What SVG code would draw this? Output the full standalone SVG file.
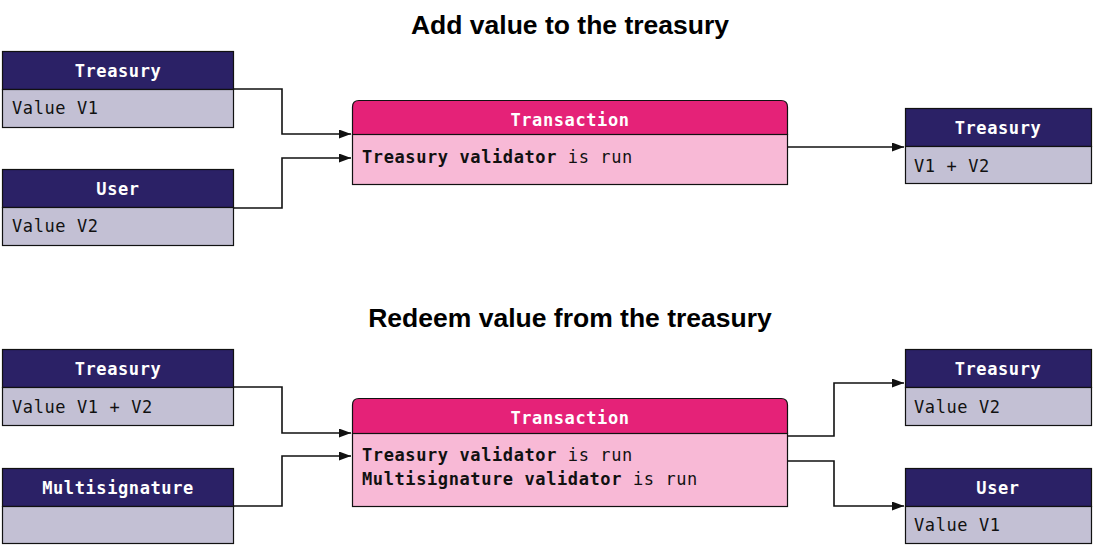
<svg xmlns="http://www.w3.org/2000/svg" width="1096" height="550" viewBox="0 0 1096 550">
<style>
.title{font-family:"Liberation Sans",Arial,sans-serif;font-weight:bold;font-size:26.5px;fill:#000;text-anchor:middle}
.hd{fill:#2b2166;stroke:#111;stroke-width:1.2}
.bd{fill:#c3c0d4;stroke:#111;stroke-width:1.2}
.thd{fill:#e52278;stroke:#111;stroke-width:1.2}
.tbd{fill:#f8b9d6;stroke:#111;stroke-width:1.2}
.ht{font-family:"DejaVu Sans Mono",monospace;font-weight:bold;font-size:17px;letter-spacing:0.6px;fill:#fff;text-anchor:middle}
.bt{font-family:"DejaVu Sans Mono",monospace;font-size:17px;letter-spacing:0.6px;fill:#111}
.bt .b{font-weight:bold}
.c{fill:none;stroke:#111;stroke-width:1.6}
</style>
<defs>
<marker id="ah" markerWidth="12" markerHeight="9" refX="12" refY="4.5" orient="auto" markerUnits="userSpaceOnUse">
<path d="M0,0 L12,4.5 L0,9 Z" fill="#111"/>
</marker>
</defs>
<rect width="1096" height="550" fill="#fff"/>
<text class="title" x="570" y="34">Add value to the treasury</text>
<text class="title" x="570" y="327">Redeem value from the treasury</text>

<g id="connectors">
<path class="c" d="M233,89 H282 V134 H351" marker-end="url(#ah)"/>
<path class="c" d="M233,208 H282 V158 H351" marker-end="url(#ah)"/>
<path class="c" d="M788,147 H904" marker-end="url(#ah)"/>
<path class="c" d="M233,387 H282 V433 H351" marker-end="url(#ah)"/>
<path class="c" d="M233,506 H282 V456 H351" marker-end="url(#ah)"/>
<path class="c" d="M788,436 H834 V383 H904" marker-end="url(#ah)"/>
<path class="c" d="M788,461 H834 V506 H904" marker-end="url(#ah)"/>
</g>

<g id="treasury-in-1">
<rect class="hd" x="2.5" y="51.5" width="231" height="38"/>
<rect class="bd" x="2.5" y="89.5" width="231" height="38"/>
<text class="ht" x="118" y="77">Treasury</text>
<text class="bt" x="12" y="114">Value V1</text>
</g>
<g id="user-in-1">
<rect class="hd" x="2.5" y="169.5" width="231" height="38"/>
<rect class="bd" x="2.5" y="207.5" width="231" height="38"/>
<text class="ht" x="118" y="195">User</text>
<text class="bt" x="12" y="232">Value V2</text>
</g>
<g id="transaction-1">
<path class="thd" d="M352.5,134.5 V107 Q352.5,100.5 359,100.5 H781 Q787.5,100.5 787.5,107 V134.5 Z"/>
<rect class="tbd" x="352.5" y="134.5" width="435" height="50"/>
<text class="ht" x="570" y="126">Transaction</text>
<text class="bt" x="362" y="163"><tspan class="b">Treasury validator</tspan> is run</text>
</g>
<g id="treasury-out-1">
<rect class="hd" x="905.5" y="108.5" width="186" height="38"/>
<rect class="bd" x="905.5" y="146.5" width="186" height="37"/>
<text class="ht" x="998" y="134">Treasury</text>
<text class="bt" x="914" y="172">V1 + V2</text>
</g>

<g id="treasury-in-2">
<rect class="hd" x="2.5" y="349.5" width="231" height="38"/>
<rect class="bd" x="2.5" y="387.5" width="231" height="38"/>
<text class="ht" x="118" y="375">Treasury</text>
<text class="bt" x="12" y="413">Value V1 + V2</text>
</g>
<g id="multisig-in-2">
<rect class="hd" x="2.5" y="468.5" width="231" height="38"/>
<rect class="bd" x="2.5" y="506.5" width="231" height="37"/>
<text class="ht" x="118" y="494">Multisignature</text>
</g>
<g id="transaction-2">
<path class="thd" d="M352.5,433.5 V405 Q352.5,398.5 359,398.5 H781 Q787.5,398.5 787.5,405 V433.5 Z"/>
<rect class="tbd" x="352.5" y="433.5" width="435" height="73"/>
<text class="ht" x="570" y="424">Transaction</text>
<text class="bt" x="362" y="461"><tspan class="b">Treasury validator</tspan> is run</text>
<text class="bt" x="362" y="485"><tspan class="b">Multisignature validator</tspan> is run</text>
</g>
<g id="treasury-out-2">
<rect class="hd" x="905.5" y="349.5" width="186" height="38"/>
<rect class="bd" x="905.5" y="387.5" width="186" height="38"/>
<text class="ht" x="998" y="375">Treasury</text>
<text class="bt" x="914" y="413">Value V2</text>
</g>
<g id="user-out-2">
<rect class="hd" x="905.5" y="468.5" width="186" height="38"/>
<rect class="bd" x="905.5" y="506.5" width="186" height="37"/>
<text class="ht" x="998" y="494">User</text>
<text class="bt" x="914" y="531">Value V1</text>
</g>
</svg>
